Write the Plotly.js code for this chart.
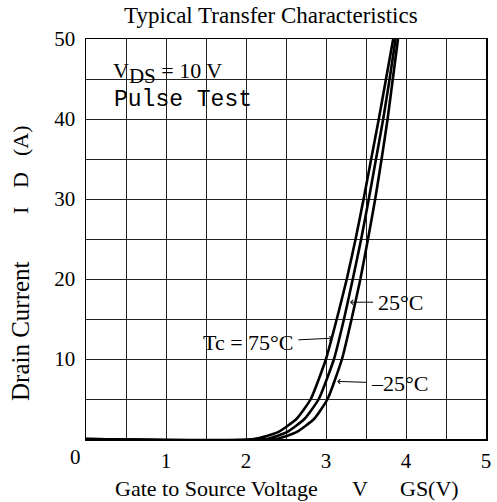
<!DOCTYPE html>
<html><head><meta charset="utf-8">
<script src="https://cdn.plot.ly/plotly-3.0.1.min.js"></script>
<style>html,body{margin:0;padding:0;background:#fff}</style>
</head><body><div id="chart" style="width:497px;height:502px"></div>
<script>
// Drain current (A) sample levels
const drainCurrent = [0, 0, 0.85, 2.5, 5, 10, 15, 20, 25, 30, 35, 40, 45, 50];
// Gate-source voltage (V) of each curve at those currents
const vgsTc75  = [0, 2.10, 2.40, 2.63, 2.81, 3.00, 3.135, 3.26, 3.37, 3.47, 3.565, 3.66, 3.75, 3.84];
const vgsTc25  = [0, 2.25, 2.51, 2.73, 2.91, 3.10, 3.225, 3.335, 3.44, 3.535, 3.625, 3.715, 3.795, 3.87];
const vgsTcM25 = [0, 2.37, 2.63, 2.85, 3.02, 3.20, 3.32, 3.43, 3.525, 3.615, 3.695, 3.77, 3.835, 3.90];
const curveNames = ['Tc = 75°C', '25°C', '–25°C'];
const xTickVals = [1, 2, 3, 4, 5];
const yTickVals = [10, 20, 30, 40, 50];

const serif = 'Liberation Serif, Times New Roman, serif';
const mono = 'Liberation Mono, Courier New, monospace';

const lineStyle = {color: '#000', width: 2.6, shape: 'spline', smoothing: 0.5};
const traces = [vgsTc75, vgsTc25, vgsTcM25].map((v, i) => ({
  x: v, y: drainCurrent, type: 'scatter', mode: 'lines', name: curveNames[i],
  line: lineStyle, hoverinfo: 'skip'
}));

function arrowNote(text, x, y, ax, ay) {
  return {text: text, x: x, y: y, xref: 'x', yref: 'y', ax: ax, ay: ay,
    showarrow: true, arrowhead: 4, arrowsize: 0.9, arrowwidth: 1, arrowcolor: '#000',
    standoff: 0, startstandoff: 3, font: {family: serif, size: 22, color: '#000'}};
}
function plainNote(text, x, y, size, xanchor, angle, family) {
  return {text: text, xref: 'paper', yref: 'paper', x: x, y: y, showarrow: false,
    xanchor: xanchor, yanchor: 'middle', textangle: angle || 0,
    font: {family: family || serif, size: size, color: '#000'}};
}

const layout = {
  width: 497, height: 502,
  margin: {l: 86, r: 11, t: 39, b: 63},
  paper_bgcolor: '#fff', plot_bgcolor: '#fff',
  showlegend: false,
  title: {text: 'Typical Transfer Characteristics', x: 0.545, xanchor: 'center', y: 0.97, yanchor: 'middle',
    font: {family: serif, size: 23, color: '#000'}},
  xaxis: {range: [0, 5], tickvals: xTickVals, ticks: '', showline: true, mirror: true,
    linecolor: '#000', linewidth: 1.5, showgrid: true, gridcolor: '#222', gridwidth: 1,
    minor: {dtick: 0.5, showgrid: true, gridcolor: '#222', gridwidth: 1},
    zeroline: false, ticklabelstandoff: 2,
    tickfont: {family: serif, size: 21, color: '#000'}},
  yaxis: {range: [0, 50], tickvals: yTickVals, ticks: '', showline: true, mirror: true,
    linecolor: '#000', linewidth: 1.5, showgrid: true, gridcolor: '#222', gridwidth: 1,
    minor: {dtick: 5, showgrid: true, gridcolor: '#222', gridwidth: 1},
    zeroline: false, ticklabelstandoff: 5,
    tickfont: {family: serif, size: 21, color: '#000'}},
  shapes: [{type: 'rect', xref: 'paper', yref: 'paper', x0: 0.04, x1: 0.37, y0: 0.8075, y1: 0.9675,
    fillcolor: '#fff', line: {width: 0}, layer: 'between'}],
  annotations: [
    plainNote('0', -0.0275, -0.044, 21, 'center'),
    // x-axis title pieces
    plainNote('Gate to Source Voltage', 0.0675, -0.1225, 22, 'left'),
    plainNote('V', 0.685, -0.1225, 22, 'center'),
    plainNote('GS(V)', 0.78, -0.1225, 22, 'left'),
    // y-axis title pieces
    plainNote('Drain Current', -0.165, 0.27, 25, 'center', -90),
    plainNote('I', -0.165, 0.57, 22, 'center', -90),
    plainNote('D', -0.165, 0.6475, 22, 'center', -90),
    plainNote('(A)', -0.165, 0.745, 22, 'center', -90),
    // condition box
    plainNote('V<sub><span style="font-size:21px">DS</span></sub> = 10 V', 0.0625, 0.915, 22, 'left'),
    plainNote('Pulse Test', 0.064, 0.8475, 23, 'left', 0, mono),
    arrowNote(curveNames[1], 3.30, 17.1, 50, 0),
    arrowNote(curveNames[0], 3.08, 12.6, -84, 4),
    arrowNote(curveNames[2], 3.14, 7.2, 62, 2)
  ]
};

Plotly.newPlot('chart', traces, layout, {displayModeBar: false, staticPlot: true});
</script></body></html>
